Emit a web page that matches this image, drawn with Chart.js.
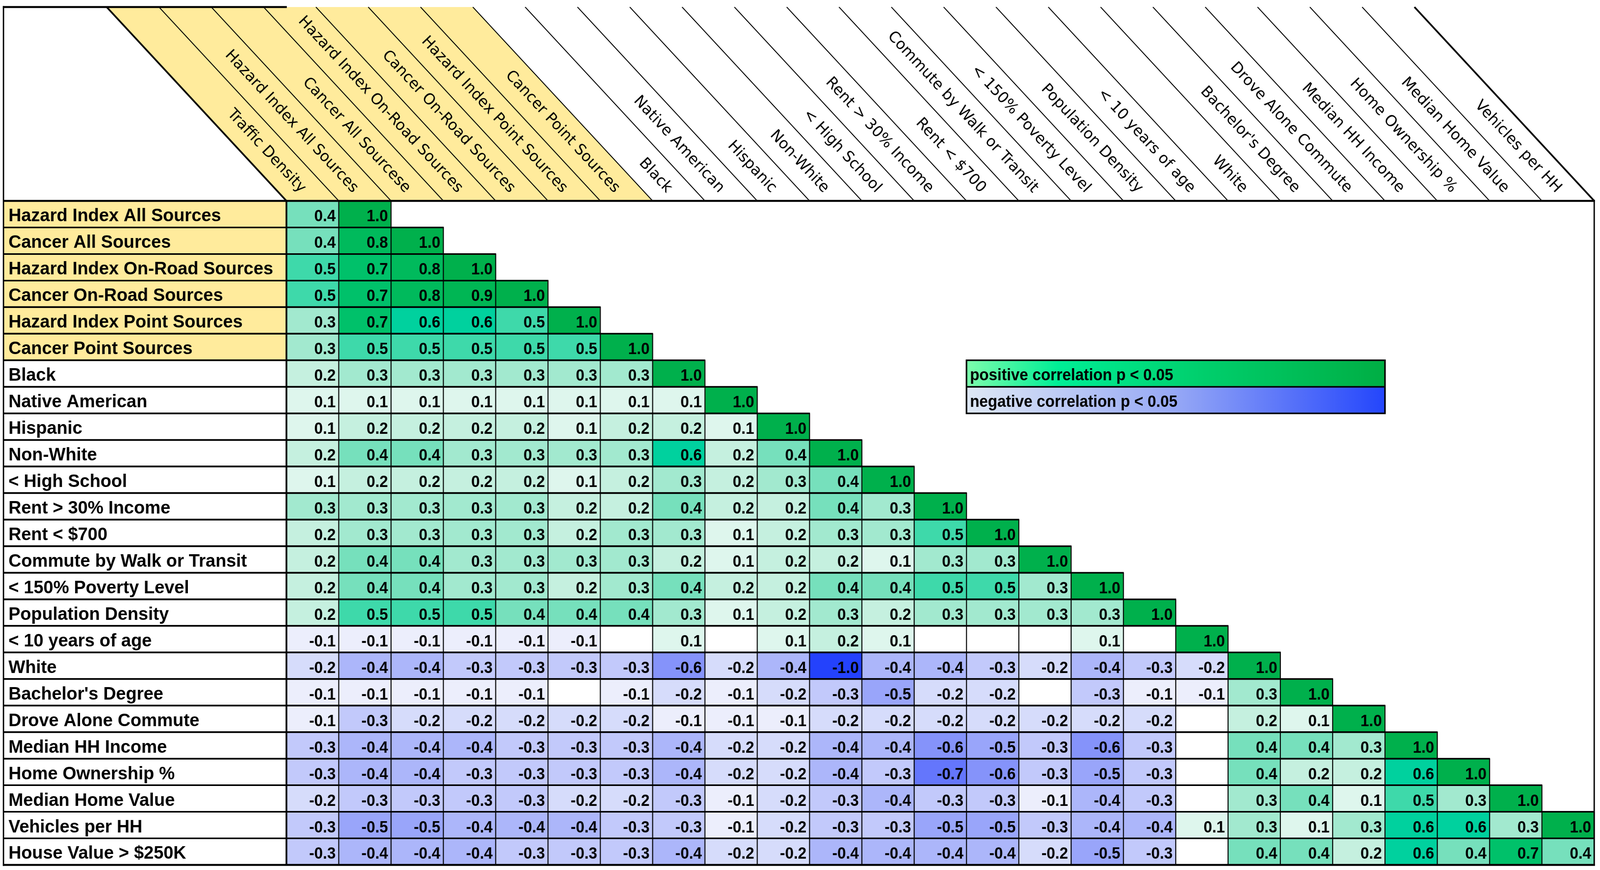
<!DOCTYPE html>
<html>
<head>
<meta charset="utf-8">
<script src="https://cdn.jsdelivr.net/npm/chart.js@4.4.1/dist/chart.umd.min.js"></script>
<style>
html,body{margin:0;padding:0;background:#ffffff;overflow:hidden;width:100%;height:100%;}
#c{display:block;position:fixed;left:0;top:0;width:100vw;height:100vh;}
</style>
</head>
<body>
<canvas id="c" width="4156" height="2226" style="width:100vw;height:100vh;"></canvas>
<script>
// ---------- DATA ----------
const colLabels = [
  "Traffic Density", "Hazard Index All Sources", "Cancer All Sourcese",
  "Hazard Index On-Road Sources", "Cancer On-Road Sources", "Hazard Index Point Sources",
  "Cancer Point Sources", "Black", "Native American", "Hispanic", "Non-White",
  "< High School", "Rent > 30% Income", "Rent < $700", "Commute by Walk or Transit",
  "< 150% Poverty Level", "Population Density", "< 10 years of age", "White",
  "Bachelor's Degree", "Drove Alone Commute", "Median HH Income", "Home Ownership %",
  "Median Home Value", "Vehicles per HH"
];
const rowLabels = [
  "Hazard Index All Sources", "Cancer All Sources", "Hazard Index On-Road Sources",
  "Cancer On-Road Sources", "Hazard Index Point Sources", "Cancer Point Sources",
  "Black", "Native American", "Hispanic", "Non-White", "< High School",
  "Rent > 30% Income", "Rent < $700", "Commute by Walk or Transit",
  "< 150% Poverty Level", "Population Density", "< 10 years of age", "White",
  "Bachelor's Degree", "Drove Alone Commute", "Median HH Income", "Home Ownership %",
  "Median Home Value", "Vehicles per HH", "House Value > $250K"
];
// highlighted (exposure) variables
const highlightedCols = 7;
const highlightedRows = 6;
const legendLabels = ["positive correlation p < 0.05", "negative correlation p < 0.05"];

// correlation rows (null = not significant, shown blank)
const hazardAllRow     = [0.4, 1.0];
const cancerAllRow     = [0.4, 0.8, 1.0];
const hazardRoadRow    = [0.5, 0.7, 0.8, 1.0];
const cancerRoadRow    = [0.5, 0.7, 0.8, 0.9, 1.0];
const hazardPointRow   = [0.3, 0.7, 0.6, 0.6, 0.5, 1.0];
const cancerPointRow   = [0.3, 0.5, 0.5, 0.5, 0.5, 0.5, 1.0];
const blackRow         = [0.2, 0.3, 0.3, 0.3, 0.3, 0.3, 0.3, 1.0];
const nativeRow        = [0.1, 0.1, 0.1, 0.1, 0.1, 0.1, 0.1, 0.1, 1.0];
const hispanicRow      = [0.1, 0.2, 0.2, 0.2, 0.2, 0.1, 0.2, 0.2, 0.1, 1.0];
const nonWhiteRow      = [0.2, 0.4, 0.4, 0.3, 0.3, 0.3, 0.3, 0.6, 0.2, 0.4, 1.0];
const highSchoolRow    = [0.1, 0.2, 0.2, 0.2, 0.2, 0.1, 0.2, 0.3, 0.2, 0.3, 0.4, 1.0];
const rent30Row        = [0.3, 0.3, 0.3, 0.3, 0.3, 0.2, 0.2, 0.4, 0.2, 0.2, 0.4, 0.3, 1.0];
const rent700Row       = [0.2, 0.3, 0.3, 0.3, 0.3, 0.2, 0.3, 0.3, 0.1, 0.2, 0.3, 0.3, 0.5, 1.0];
const commuteRow       = [0.2, 0.4, 0.4, 0.3, 0.3, 0.3, 0.3, 0.2, 0.1, 0.2, 0.2, 0.1, 0.3, 0.3, 1.0];
const povertyRow       = [0.2, 0.4, 0.4, 0.3, 0.3, 0.2, 0.3, 0.4, 0.2, 0.2, 0.4, 0.4, 0.5, 0.5, 0.3, 1.0];
const popDensityRow    = [0.2, 0.5, 0.5, 0.5, 0.4, 0.4, 0.4, 0.3, 0.1, 0.2, 0.3, 0.2, 0.3, 0.3, 0.3, 0.3, 1.0];
const under10Row       = [-0.1, -0.1, -0.1, -0.1, -0.1, -0.1, null, 0.1, null, 0.1, 0.2, 0.1, null, null, null, 0.1, null, 1.0];
const whiteRow         = [-0.2, -0.4, -0.4, -0.3, -0.3, -0.3, -0.3, -0.6, -0.2, -0.4, -1.0, -0.4, -0.4, -0.3, -0.2, -0.4, -0.3, -0.2, 1.0];
const bachelorRow      = [-0.1, -0.1, -0.1, -0.1, -0.1, null, -0.1, -0.2, -0.1, -0.2, -0.3, -0.5, -0.2, -0.2, null, -0.3, -0.1, -0.1, 0.3, 1.0];
const droveAloneRow    = [-0.1, -0.3, -0.2, -0.2, -0.2, -0.2, -0.2, -0.1, -0.1, -0.1, -0.2, -0.2, -0.2, -0.2, -0.2, -0.2, -0.2, null, 0.2, 0.1, 1.0];
const incomeRow        = [-0.3, -0.4, -0.4, -0.4, -0.3, -0.3, -0.3, -0.4, -0.2, -0.2, -0.4, -0.4, -0.6, -0.5, -0.3, -0.6, -0.3, null, 0.4, 0.4, 0.3, 1.0];
const ownershipRow     = [-0.3, -0.4, -0.4, -0.3, -0.3, -0.3, -0.3, -0.4, -0.2, -0.2, -0.4, -0.3, -0.7, -0.6, -0.3, -0.5, -0.3, null, 0.4, 0.2, 0.2, 0.6, 1.0];
const homeValueRow     = [-0.2, -0.3, -0.3, -0.3, -0.3, -0.2, -0.2, -0.3, -0.1, -0.2, -0.3, -0.4, -0.3, -0.3, -0.1, -0.4, -0.3, null, 0.3, 0.4, 0.1, 0.5, 0.3, 1.0];
const vehiclesRow      = [-0.3, -0.5, -0.5, -0.4, -0.4, -0.4, -0.3, -0.3, -0.1, -0.2, -0.3, -0.3, -0.5, -0.5, -0.3, -0.4, -0.4, 0.1, 0.3, 0.1, 0.3, 0.6, 0.6, 0.3, 1.0];
const houseValueRow    = [-0.3, -0.4, -0.4, -0.4, -0.3, -0.3, -0.3, -0.4, -0.2, -0.2, -0.4, -0.4, -0.4, -0.4, -0.2, -0.5, -0.3, null, 0.4, 0.4, 0.2, 0.6, 0.4, 0.7, 0.4];

const matrix = [
  hazardAllRow, cancerAllRow, hazardRoadRow, cancerRoadRow, hazardPointRow, cancerPointRow,
  blackRow, nativeRow, hispanicRow, nonWhiteRow, highSchoolRow, rent30Row, rent700Row,
  commuteRow, povertyRow, popDensityRow, under10Row, whiteRow, bachelorRow, droveAloneRow,
  incomeRow, ownershipRow, homeValueRow, vehiclesRow, houseValueRow
];

// ---------- STYLE ----------
const YELLOW = '#FFEB9C';
const posStops = [
  [0.0, [250, 253, 252]], [0.1, [222, 246, 237]], [0.2, [197, 240, 223]], [0.3, [162, 233, 207]],
  [0.4, [118, 224, 188]], [0.5, [62, 217, 170]], [0.6, [0, 209, 158]], [0.7, [0, 193, 106]],
  [0.8, [0, 186, 92]], [0.9, [0, 182, 84]], [1.0, [0, 176, 76]]
];
const negStops = [
  [0.0, [250, 250, 254]], [0.1, [236, 238, 252]], [0.2, [214, 220, 251]], [0.3, [194, 201, 251]],
  [0.4, [172, 182, 250]], [0.5, [153, 165, 250]], [0.6, [133, 147, 250]], [0.7, [100, 118, 252]], [1.0, [36, 66, 252]]
];
function interp(stops, v) {
  for (let i = 1; i < stops.length; i++) {
    if (v <= stops[i][0] + 1e-9) {
      const [a, ca] = stops[i - 1], [b, cb] = stops[i];
      const t = (v - a) / (b - a);
      return 'rgb(' + ca.map((x, k) => Math.round(x + (cb[k] - x) * t)).join(',') + ')';
    }
  }
  const c = stops[stops.length - 1][1];
  return 'rgb(' + c.join(',') + ')';
}
function colorFor(v) {
  if (v === null || v === undefined) return '#ffffff';
  return v >= 0 ? interp(posStops, v) : interp(negStops, -v);
}

const datasets = matrix.map((vals, r) => ({
  label: rowLabels[r],
  data: colLabels.map((_, c) => c < vals.length ? [r, r + 1] : null),
  backgroundColor: colLabels.map((_, c) => c < vals.length ? colorFor(vals[c]) : 'rgba(0,0,0,0)'),
  borderWidth: 0,
  grouped: false,
  barPercentage: 1,
  categoryPercentage: 1
}));

const W = 4156, H = 2226;
const LABEL_LEFT = 9;      // left edge of the row-label column
const HEADER_TOP = 18;     // top edge of the slanted header
const SLANT = 467 / 496;   // horizontal shift per vertical px of header strips
const FONT_BOLD = '"Liberation Sans", Arial, Helvetica, sans-serif';
const FONT_HEAD = '"DejaVu Sans", Verdana, sans-serif';

function line(ctx, x1, y1, x2, y2, w) {
  ctx.beginPath();
  ctx.lineWidth = w;
  ctx.moveTo(x1, y1);
  ctx.lineTo(x2, y2);
  ctx.stroke();
}
// text drawn with a slight vertical stretch, baseline placed so glyph caps are centred on yc
function stretchedText(ctx, txt, x, yc, size, sy) {
  ctx.save();
  ctx.translate(x, yc);
  ctx.scale(1, sy);
  ctx.textBaseline = 'alphabetic';
  ctx.fillText(txt, 0, size * 0.358);
  ctx.restore();
}

const tablePlugin = {
  id: 'corrTable',
  beforeDraw(chart) {
    const ctx = chart.ctx;
    ctx.save();
    ctx.fillStyle = '#ffffff';
    ctx.fillRect(0, 0, chart.width, chart.height);
    ctx.restore();
  },
  afterDatasetsDraw(chart) {
    const ctx = chart.ctx;
    const xs = chart.scales.x, ys = chart.scales.y;
    const ca = chart.chartArea;
    const nCols = colLabels.length, nRows = rowLabels.length;
    const colX = k => xs.getPixelForValue(k - 0.5);
    const rowY = r => ys.getPixelForValue(r);
    const D = (ca.top - HEADER_TOP) * SLANT;
    ctx.save();
    ctx.strokeStyle = '#000';
    ctx.fillStyle = '#000';

    // --- header strips ---
    for (let c = 0; c < highlightedCols; c++) {
      const x0 = colX(c), x1 = colX(c + 1);
      ctx.beginPath();
      ctx.moveTo(x0, ca.top); ctx.lineTo(x1, ca.top);
      ctx.lineTo(x1 - D, HEADER_TOP); ctx.lineTo(x0 - D, HEADER_TOP);
      ctx.closePath();
      ctx.fillStyle = YELLOW;
      ctx.fill();
    }
    ctx.strokeStyle = '#000';
    for (let k = 0; k <= nCols; k++) {
      const x = colX(k);
      line(ctx, x, ca.top, x - D, HEADER_TOP, (k === 0 || k === nCols) ? 4.5 : 2.5);
    }
    // header text
    const ang = Math.atan2(ca.top - HEADER_TOP, D);
    const ux = Math.cos(ang), uy = Math.sin(ang);
    ctx.fillStyle = '#000';
    ctx.font = '39px ' + FONT_HEAD;
    ctx.textAlign = 'right';
    ctx.textBaseline = 'middle';
    for (let c = 0; c < nCols; c++) {
      const cx = (colX(c) + colX(c + 1)) / 2;
      const d = 36;
      const ax = cx - ux * d, ay = ca.top - uy * d;
      ctx.save();
      ctx.translate(ax, ay);
      ctx.rotate(ang);
      ctx.fillText(colLabels[c], 0, 0);
      ctx.restore();
    }

    // --- row label column ---
    for (let r = 0; r < nRows; r++) {
      const y0 = rowY(r), y1 = rowY(r + 1);
      ctx.fillStyle = r < highlightedRows ? YELLOW : '#ffffff';
      ctx.fillRect(LABEL_LEFT, y0, ca.left - LABEL_LEFT, y1 - y0);
      ctx.fillStyle = '#000';
      ctx.font = 'bold 46px ' + FONT_BOLD;
      ctx.textAlign = 'left';
      stretchedText(ctx, rowLabels[r], LABEL_LEFT + 13, (y0 + y1) / 2 + 2, 46, 1.0);
    }

    // --- cell values ---
    ctx.font = 'bold 40px ' + FONT_BOLD;
    ctx.textAlign = 'right';
    ctx.fillStyle = '#000';
    matrix.forEach((vals, r) => {
      const yc = (rowY(r) + rowY(r + 1)) / 2 + 3;
      vals.forEach((v, c) => {
        if (v === null) return;
        stretchedText(ctx, v.toFixed(1), colX(c + 1) - 8, yc, 40, 1.08);
      });
    });

    // --- grid lines ---
    ctx.strokeStyle = '#000';
    matrix.forEach((vals, r) => {
      const n = vals.length;
      const y0 = rowY(r), y1 = rowY(r + 1);
      for (let k = 1; k <= n; k++) line(ctx, colX(k), y0, colX(k), y1, 2.6);
      line(ctx, LABEL_LEFT, y0, colX(n) + 1, y0, 4);
      line(ctx, LABEL_LEFT, y1, colX(n) + 1, y1, 4);
    });
    // label column right border
    line(ctx, ca.left, ca.top, ca.left, ca.bottom, 4.5);
    // outer left border
    line(ctx, LABEL_LEFT, HEADER_TOP - 2.5, LABEL_LEFT, ca.bottom + 2.5, 3.5);
    // top edge above the label column
    line(ctx, LABEL_LEFT - 1.5, HEADER_TOP, ca.left + 1, HEADER_TOP, 5);
    // header bottom
    line(ctx, LABEL_LEFT, ca.top, ca.right + 2, ca.top, 5);
    // right outer border
    line(ctx, ca.right, ca.top, ca.right, ca.bottom, 3.5);
    // bottom
    line(ctx, LABEL_LEFT - 1.5, ca.bottom, ca.right + 2, ca.bottom, 5);

    // --- legend ---
    const lx0 = colX(13), lx1 = colX(21);
    const ly = [rowY(6), rowY(7), rowY(8)];
    const gPos = ctx.createLinearGradient(lx0, 0, lx1, 0);
    gPos.addColorStop(0, 'rgb(125,252,172)');
    gPos.addColorStop(0.22, 'rgb(0,238,150)');
    gPos.addColorStop(0.55, 'rgb(0,208,110)');
    gPos.addColorStop(1, 'rgb(0,174,68)');
    const gNeg = ctx.createLinearGradient(lx0, 0, lx1, 0);
    gNeg.addColorStop(0, 'rgb(222,232,244)');
    gNeg.addColorStop(0.5, 'rgb(150,168,246)');
    gNeg.addColorStop(1, 'rgb(36,70,252)');
    ctx.fillStyle = gPos;
    ctx.fillRect(lx0, ly[0], lx1 - lx0, ly[1] - ly[0]);
    ctx.fillStyle = gNeg;
    ctx.fillRect(lx0, ly[1], lx1 - lx0, ly[2] - ly[1]);
    ctx.lineWidth = 4;
    ctx.strokeStyle = '#000';
    ctx.strokeRect(lx0, ly[0], lx1 - lx0, ly[2] - ly[0]);
    line(ctx, lx0, ly[1], lx1, ly[1], 4);
    ctx.fillStyle = '#000';
    ctx.font = 'bold 40px ' + FONT_BOLD;
    ctx.textAlign = 'left';
    stretchedText(ctx, legendLabels[0], lx0 + 9, (ly[0] + ly[1]) / 2 + 2, 40, 1.08);
    stretchedText(ctx, legendLabels[1], lx0 + 9, (ly[1] + ly[2]) / 2 + 2, 40, 1.08);

    ctx.restore();
  }
};

new Chart(document.getElementById('c'), {
  type: 'bar',
  data: { labels: colLabels, datasets },
  options: {
    responsive: false,
    animation: false,
    devicePixelRatio: 1,
    layout: { padding: { left: 744, right: W - 4141, top: 514, bottom: H - 2213 } },
    plugins: { legend: { display: false }, tooltip: { enabled: false } },
    events: [],
    scales: {
      x: { type: 'category', display: false, offset: true },
      y: { type: 'linear', display: false, min: 0, max: 25, reverse: true }
    }
  },
  plugins: [tablePlugin]
});
</script>
</body>
</html>
